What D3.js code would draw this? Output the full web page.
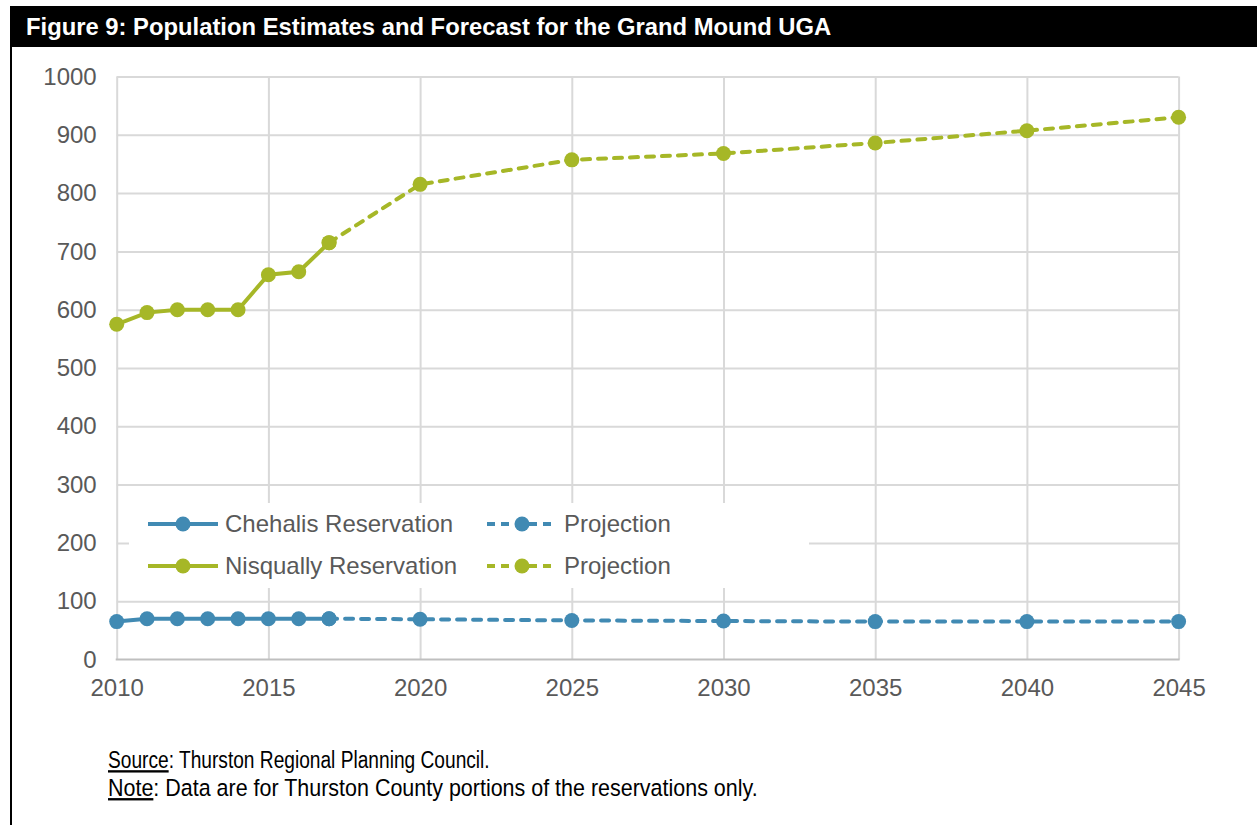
<!DOCTYPE html>
<html>
<head>
<meta charset="utf-8">
<script src="https://d3js.org/d3.v7.min.js"></script>
<style>
  body { margin: 0; background: #ffffff; }
  svg { display: block; }
</style>
</head>
<body>
<script>
// population estimates (solid) and forecast (dashed)
var yearsEstimate = [2010, 2011, 2012, 2013, 2014, 2015, 2016, 2017];
var chehalisEstimate = [65, 70, 70, 70, 70, 70, 70, 70];
var nisquallyEstimate = [575, 595, 600, 600, 600, 660, 665, 715];

var yearsProjection = [2017, 2020, 2025, 2030, 2035, 2040, 2045];
var chehalisProjection = [70, 69, 67, 66, 65, 65, 65];
var nisquallyProjection = [715, 815, 857, 868, 886, 907, 930];

var xTicks = [2010, 2015, 2020, 2025, 2030, 2035, 2040, 2045];
var yTicks = [0, 100, 200, 300, 400, 500, 600, 700, 800, 900, 1000];

var legendLabels = ["Chehalis Reservation", "Projection", "Nisqually Reservation", "Projection"];

var titleText = "Figure 9: Population Estimates and Forecast for the Grand Mound UGA";
var notes = [
    ["Source", ": Thurston Regional Planning Council."],
    ["Note", ": Data are for Thurston County portions of the reservations only."]
];

var blue = "#418ab3";
var green = "#a6b727";

function zip(xs, ys) {
    return xs.map(function(x, i) { return [x, ys[i]]; });
}

function drawChart() {
    var svg_width = 1257;
    var svg_height = 825;

    var svg = d3.select("body")
                .append("svg")
                .attr("width", svg_width)
                .attr("height", svg_height);

    // frame: left rule and black title bar
    svg.append("rect")
        .attr("x", 10).attr("y", 6)
        .attr("width", svg_width - 10).attr("height", 41)
        .attr("fill", "#000");

    svg.append("line")
        .attr("x1", 11).attr("x2", 11)
        .attr("y1", 6).attr("y2", svg_height)
        .attr("stroke", "#000")
        .attr("stroke-width", 2);

    svg.append("text")
        .attr("x", 26).attr("y", 35)
        .attr("fill", "#fff")
        .style("font-family", "Liberation Sans, Arial, sans-serif")
        .style("font-weight", "bold")
        .style("font-size", "23.8px")
        .text(titleText);

    var xScale = d3.scaleLinear()
                    .domain([2010, 2045])
                    .range([116.7, 1178.6]);

    var yScale = d3.scaleLinear()
                    .domain([0, 1000])
                    .range([659.5, 76.5]);

    // gridlines
    var grid = svg.append("g").attr("class", "grid");

    grid.append("g")
        .call(d3.axisLeft(yScale)
                .tickValues(yTicks.slice(1))
                .tickSize(-(xScale(2045) - xScale(2010)))
                .tickFormat(""))
        .attr("transform", "translate(" + xScale(2010) + ",0)")
        .call(function(g) { g.select(".domain").remove(); })
        .selectAll("line")
        .attr("stroke", "#d9d9d9")
        .attr("stroke-width", 2);

    grid.append("g")
        .call(d3.axisBottom(xScale)
                .tickValues(xTicks)
                .tickSize(-(yScale(0) - yScale(1000)))
                .tickFormat(""))
        .attr("transform", "translate(0," + yScale(0) + ")")
        .call(function(g) { g.select(".domain").remove(); })
        .selectAll("line")
        .attr("stroke", "#d9d9d9")
        .attr("stroke-width", 2);

    // bottom axis line
    svg.append("line")
        .attr("x1", xScale(2010) - 1).attr("x2", xScale(2045) + 1)
        .attr("y1", yScale(0)).attr("y2", yScale(0))
        .attr("stroke", "#bfbfbf")
        .attr("stroke-width", 2);

    // tick labels
    var yAxis = svg.append("g")
                    .attr("class", "y axis")
                    .attr("transform", "translate(" + (xScale(2010) - 8) + ",0)")
                    .call(d3.axisLeft(yScale).tickValues(yTicks).tickFormat(d3.format("d")).tickSize(0).tickPadding(12));
    yAxis.select(".domain").remove();

    var xAxis = svg.append("g")
                    .attr("class", "x axis")
                    .attr("transform", "translate(0," + yScale(0) + ")")
                    .call(d3.axisBottom(xScale).tickValues(xTicks).tickFormat(d3.format("d")).tickSize(0).tickPadding(19));
    xAxis.select(".domain").remove();

    svg.selectAll(".axis text")
        .attr("fill", "#595959")
        .style("font-family", "Liberation Sans, Arial, sans-serif")
        .style("font-size", "24px");

    var line = d3.line()
                .x(function(d) { return xScale(d[0]); })
                .y(function(d) { return yScale(d[1]); });

    var series = [
        { pts: zip(yearsEstimate, chehalisEstimate), color: blue, dash: null },
        { pts: zip(yearsProjection, chehalisProjection), color: blue, dash: "8,8" },
        { pts: zip(yearsEstimate, nisquallyEstimate), color: green, dash: null },
        { pts: zip(yearsProjection, nisquallyProjection), color: green, dash: "8,8" }
    ];

    series.forEach(function(s) {
        svg.append("path")
            .datum(s.pts)
            .attr("d", line)
            .attr("fill", "none")
            .attr("stroke", s.color)
            .attr("stroke-width", 4)
            .attr("stroke-linecap", s.dash ? "round" : "butt")
            .attr("stroke-dasharray", s.dash);

        svg.append("g")
            .selectAll("circle")
            .data(s.pts)
            .enter()
            .append("circle")
            .attr("cx", function(d) { return xScale(d[0]); })
            .attr("cy", function(d) { return yScale(d[1]); })
            .attr("r", 7.5)
            .attr("fill", s.color);
    });

    drawLegend(svg);
    drawNotes(svg);
}

function drawLegend(svg) {
    var legend = svg.append("g").attr("class", "legend");

    legend.append("rect")
        .attr("x", 129).attr("y", 503)
        .attr("width", 680).attr("height", 85)
        .attr("fill", "#fff");

    var items = [
        { label: legendLabels[0], color: blue, dash: null, x: 148, y: 524 },
        { label: legendLabels[1], color: blue, dash: "8,6", x: 487, y: 524 },
        { label: legendLabels[2], color: green, dash: null, x: 148, y: 566 },
        { label: legendLabels[3], color: green, dash: "8,6", x: 487, y: 566 }
    ];

    items.forEach(function(it) {
        legend.append("line")
            .attr("x1", it.x).attr("x2", it.x + 70)
            .attr("y1", it.y).attr("y2", it.y)
            .attr("stroke", it.color)
            .attr("stroke-width", 4)
            .attr("stroke-dasharray", it.dash);

        legend.append("circle")
            .attr("cx", it.x + 35).attr("cy", it.y)
            .attr("r", 7.5)
            .attr("fill", it.color);

        legend.append("text")
            .attr("x", it.x + 77).attr("y", it.y)
            .attr("dy", "0.35em")
            .attr("fill", "#595959")
            .style("font-family", "Liberation Sans, Arial, sans-serif")
            .style("font-size", "24px")
            .text(it.label);
    });
}

function drawNotes(svg) {
    // no narrow face installed, so squeeze the regular one to the width each line has in the figure
    var lineWidths = [382, 650];
    notes.forEach(function(n, i) {
        var t = svg.append("text")
                    .attr("fill", "#000")
                    .style("font-family", "Liberation Sans, Arial, sans-serif")
                    .style("font-size", "23.5px");
        t.append("tspan")
            .style("text-decoration", "underline")
            .text(n[0]);
        t.append("tspan").text(n[1]);

        var len = t.node().getComputedTextLength();
        t.attr("transform", "translate(108," + (768 + i * 28) + ") scale(" + (lineWidths[i] / len) + ",1)");
    });
}

window.onload = function() {
    drawChart();
};
</script>
</body>
</html>
